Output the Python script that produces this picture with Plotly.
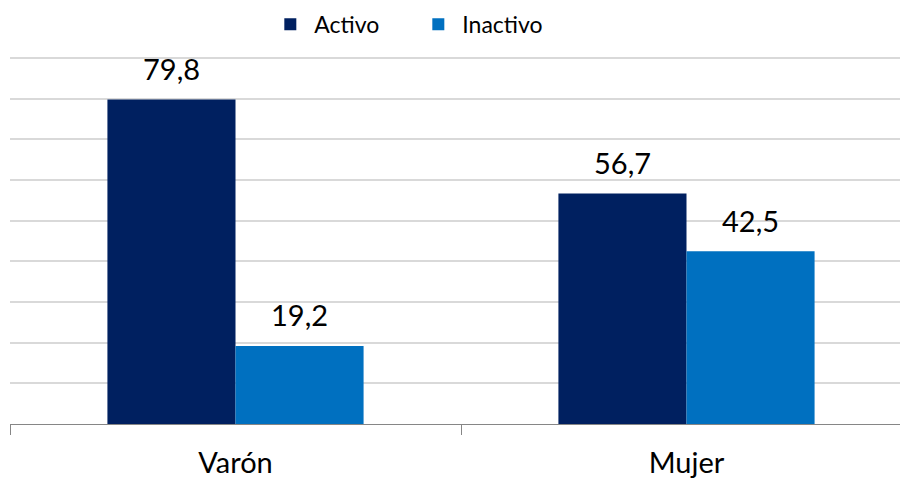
import plotly.graph_objects as go

categories = ["Varón", "Mujer"]
activo = [79.8, 56.7]
inactivo = [19.2, 42.5]

FONT = "Lato"

fig = go.Figure()

fig.add_trace(
    go.Bar(
        x=categories,
        y=activo,
        name="Activo",
        marker=dict(color="#002060", line=dict(width=0)),
    )
)
fig.add_trace(
    go.Bar(
        x=categories,
        y=inactivo,
        name="Inactivo",
        marker=dict(color="#0070C0", line=dict(width=0)),
    )
)

# etiquetas de valor, encima de cada barra (coma decimal)
for shift, serie in [(-64, activo), (64, inactivo)]:
    for cat, val in zip(categories, serie):
        fig.add_annotation(
            x=cat,
            y=val,
            text=f"{val:.1f}".replace(".", ","),
            showarrow=False,
            xshift=shift,
            yshift=31,
            yanchor="middle",
            font=dict(size=29, color="#000000", family=FONT),
        )

fig.update_layout(
    width=900,
    height=478,
    barmode="group",
    bargap=0.432,
    bargroupgap=0,
    paper_bgcolor="#FFFFFF",
    plot_bgcolor="#FFFFFF",
    font=dict(family=FONT, color="#000000"),
    margin=dict(l=10, r=0, t=54, b=54, autoexpand=False),
    showlegend=True,
    legend=dict(
        orientation="h",
        x=0.288,
        xanchor="left",
        y=1.08,
        yanchor="middle",
        font=dict(size=23, family=FONT),
        itemwidth=38,
        entrywidth=95,
        entrywidthmode="pixels",
        traceorder="normal",
    ),
)

# el área de trazado sigue más allá del borde derecho
fig.update_xaxes(
    type="category",
    range=[-0.5, 1.4734],
    automargin=False,
    showgrid=False,
    showline=True,
    linecolor="#868686",
    linewidth=1,
    ticks="outside",
    tickson="boundaries",
    ticklen=10,
    tickcolor="#868686",
    tickfont=dict(size=29, family=FONT),
    ticklabelstandoff=13,
    zeroline=False,
)

# rango hasta 91 para que la línea de 90 quede visible arriba
fig.update_yaxes(
    range=[0, 91],
    tickvals=[10, 20, 30, 40, 50, 60, 70, 80, 90],
    automargin=False,
    showgrid=True,
    gridcolor="#D9D9D9",
    gridwidth=2,
    showticklabels=False,
    zeroline=False,
    showline=False,
)

fig.write_html(
    "out.html",
    config={"displayModeBar": False},
    post_script="document.body.style.margin='0';document.body.style.overflow='hidden';",
)
